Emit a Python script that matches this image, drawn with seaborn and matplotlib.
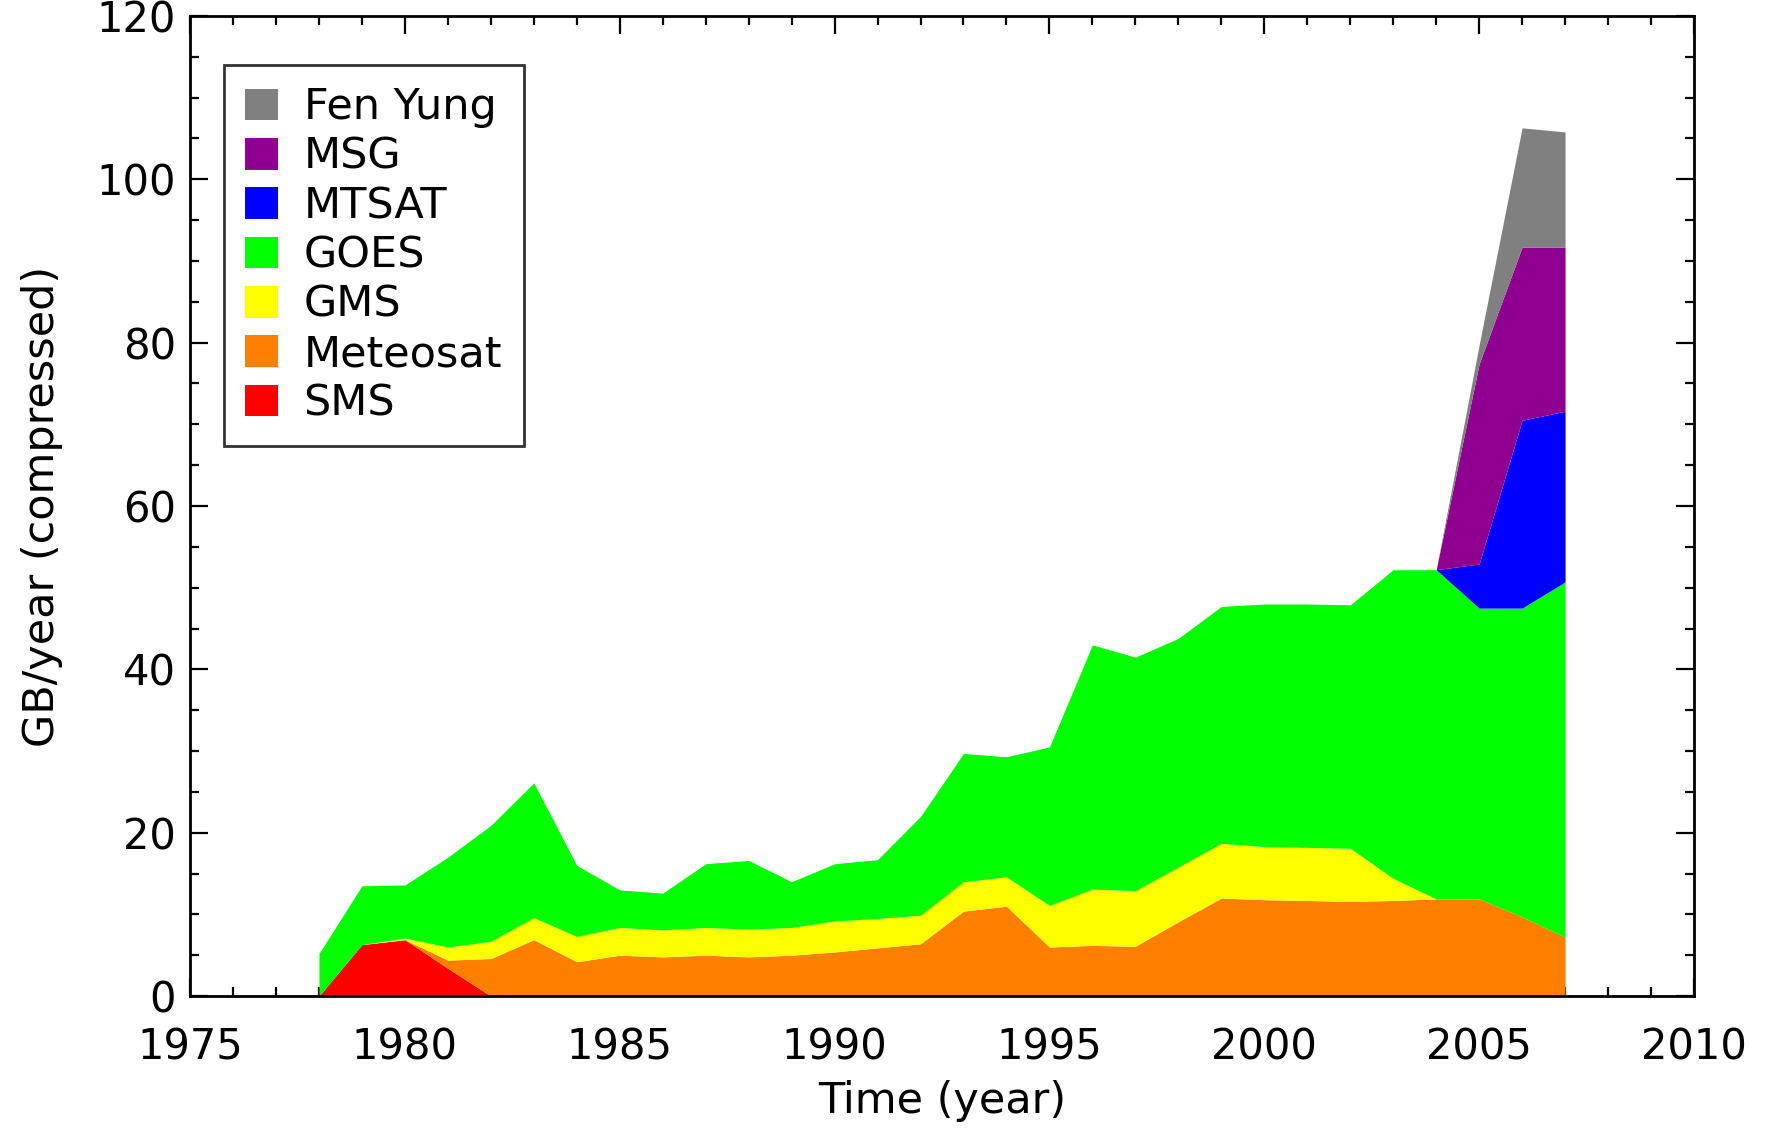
import numpy as np
import pandas as pd
import matplotlib
matplotlib.use("Agg")
import matplotlib.pyplot as plt
from matplotlib.patches import Patch
from matplotlib.ticker import MultipleLocator
import seaborn as sns

years = list(range(1978, 2008))
sms = [0, 6.3, 6.9, 3.4, 0, 0, 0, 0, 0, 0, 0, 0, 0, 0, 0, 0, 0, 0, 0, 0,
       0, 0, 0, 0, 0, 0, 0, 0, 0, 0]
meteosat = [0, 0, 0, 1.0, 4.6, 6.9, 4.2, 5.0, 4.8, 5.0, 4.8, 5.0, 5.4, 5.9, 6.4,
            10.4, 11.0, 6.0, 6.2, 6.1, 9.1, 12.0, 11.8, 11.7, 11.6, 11.7, 11.9,
            11.9, 9.7, 7.2]
gms = [0, 0, 0.2, 1.6, 2.1, 2.7, 3.1, 3.4, 3.3, 3.4, 3.4, 3.4, 3.8, 3.6, 3.5,
       3.6, 3.6, 5.1, 6.9, 6.8, 6.7, 6.7, 6.5, 6.5, 6.5, 2.7, 0, 0, 0, 0]
goes = [5.2, 7.2, 6.5, 11.0, 14.2, 16.5, 8.7, 4.6, 4.5, 7.8, 8.4, 5.6, 7.0, 7.2,
        12.1, 15.7, 14.7, 19.4, 29.9, 28.6, 28.0, 29.0, 29.7, 29.8, 29.8, 37.8,
        40.3, 35.6, 37.8, 43.5]
mtsat = [0] * 26 + [0, 5.4, 23.0, 20.9]
msg = [0] * 26 + [0, 24.5, 21.2, 20.1]
fenyung = [0] * 26 + [0, 2.3, 14.6, 14.1]

series_names = ["SMS", "Meteosat", "GMS", "GOES", "MTSAT", "MSG", "Fen Yung"]
series_colors = ["#ff0000", "#ff8000", "#ffff00", "#00ff00", "#0000ff", "#900090", "#808080"]

x_ticks = [1975, 1980, 1985, 1990, 1995, 2000, 2005, 2010]
y_ticks = [0, 20, 40, 60, 80, 100, 120]

df = pd.DataFrame({"year": years, "SMS": sms, "Meteosat": meteosat, "GMS": gms,
                   "GOES": goes, "MTSAT": mtsat, "MSG": msg, "Fen Yung": fenyung})

sns.set_theme(style="ticks")
plt.rcParams["font.family"] = ["DejaVu Sans"]

fig = plt.figure(figsize=(17.71, 11.32), dpi=100)
ax = fig.add_axes([0.1073, 0.1201, 0.8492, 0.8658])

ax.stackplot(df["year"], *[df[n] for n in series_names], colors=series_colors,
             linewidth=0)

ax.set_xlim(1975, 2010)
ax.set_ylim(0, 120)
ax.set_xticks(x_ticks)
ax.set_yticks(y_ticks)
ax.xaxis.set_minor_locator(MultipleLocator(1))
ax.yaxis.set_minor_locator(MultipleLocator(5))
ax.tick_params(which="both", direction="in", top=True, right=True, width=1.6,
               color="black", labelsize=30, labelcolor="black")
ax.tick_params(axis="x", which="major", pad=22)
ax.tick_params(axis="y", which="major", pad=10)
ax.tick_params(which="major", length=13)
ax.tick_params(which="minor", length=6.5)
for sp in ax.spines.values():
    sp.set_linewidth(2)
    sp.set_color("black")
ax.set_facecolor("white")

ax.set_xlabel("Time (year)", fontsize=31, labelpad=8, color="black")
ax.set_ylabel("GB/year (compressed)", fontsize=31, labelpad=24, color="black")

handles = [Patch(facecolor=c, edgecolor="none", label=n)
           for n, c in zip(series_names[::-1], series_colors[::-1])]
leg = ax.legend(handles=handles, loc="upper left", bbox_to_anchor=(0.0225, 0.95),
                fontsize=31, frameon=True, fancybox=False, handlelength=0.75,
                handleheight=0.75, handletextpad=0.6, labelspacing=0.17,
                borderpad=0.5, borderaxespad=0)
leg.get_frame().set_edgecolor("black")
leg.get_frame().set_linewidth(2)
for t in leg.get_texts():
    t.set_color("black")

fig.savefig("out.png", dpi=100, facecolor="white")
